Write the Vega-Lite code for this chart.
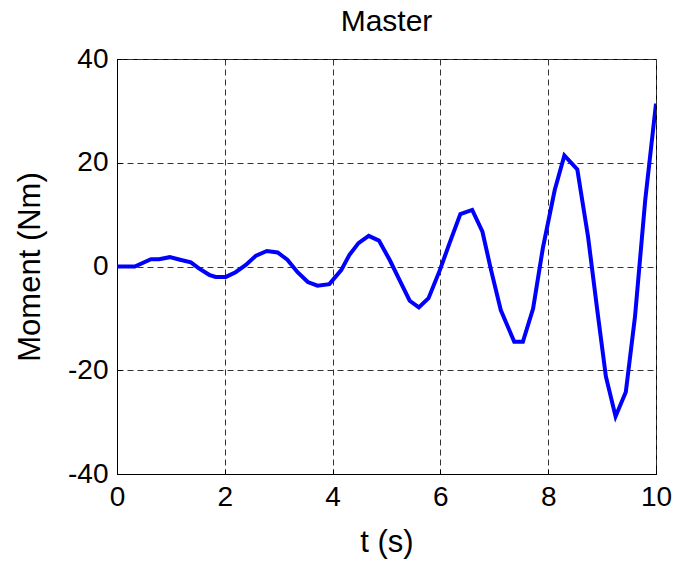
{
  "$schema": "https://vega.github.io/schema/vega-lite/v6.json",
  "autosize": {"type": "none"},
  "width": 539,
  "height": 415,
  "padding": {"left": 117, "top": 59, "right": 21, "bottom": 87},
  "background": "white",
  "title": {"text": "Master", "font": "Liberation Sans", "fontSize": 30, "fontWeight": "normal", "color": "black", "offset": 8},
  "data": {"values": [
    {"t": 0.0, "m": 0.0}, {"t": 0.33, "m": 0.0}, {"t": 0.63, "m": 1.4}, {"t": 0.78, "m": 1.4},
    {"t": 0.98, "m": 1.8}, {"t": 1.17, "m": 1.3}, {"t": 1.37, "m": 0.8}, {"t": 1.52, "m": -0.35},
    {"t": 1.71, "m": -1.6}, {"t": 1.83, "m": -2.0}, {"t": 2.02, "m": -2.0}, {"t": 2.2, "m": -1.1},
    {"t": 2.39, "m": 0.3}, {"t": 2.58, "m": 2.1}, {"t": 2.78, "m": 3.0}, {"t": 2.98, "m": 2.7},
    {"t": 3.16, "m": 1.3}, {"t": 3.35, "m": -1.1}, {"t": 3.54, "m": -3.0}, {"t": 3.72, "m": -3.7},
    {"t": 3.94, "m": -3.4}, {"t": 4.16, "m": -0.7}, {"t": 4.31, "m": 2.2}, {"t": 4.48, "m": 4.5},
    {"t": 4.67, "m": 5.9}, {"t": 4.86, "m": 5.0}, {"t": 5.06, "m": 1.25}, {"t": 5.24, "m": -2.6},
    {"t": 5.43, "m": -6.6}, {"t": 5.6, "m": -7.9}, {"t": 5.78, "m": -6.1}, {"t": 5.99, "m": -0.7},
    {"t": 6.17, "m": 4.5}, {"t": 6.37, "m": 10.1}, {"t": 6.59, "m": 10.9}, {"t": 6.78, "m": 6.7},
    {"t": 6.94, "m": -0.7}, {"t": 7.12, "m": -8.4}, {"t": 7.37, "m": -14.5}, {"t": 7.53, "m": -14.5},
    {"t": 7.72, "m": -8.1}, {"t": 7.9, "m": 3.5}, {"t": 8.12, "m": 14.7}, {"t": 8.3, "m": 21.4},
    {"t": 8.54, "m": 18.7}, {"t": 8.74, "m": 5.7}, {"t": 8.91, "m": -8.4}, {"t": 9.07, "m": -21.2},
    {"t": 9.25, "m": -28.9}, {"t": 9.44, "m": -24.2}, {"t": 9.61, "m": -9.7}, {"t": 9.8, "m": 12.8},
    {"t": 10.0, "m": 31.4}
  ]},
  "mark": {"type": "line", "color": "#0000ff", "strokeWidth": 4, "clip": true},
  "encoding": {
    "x": {"field": "t", "type": "quantitative", "title": "t (s)",
      "scale": {"domain": [0, 10], "nice": false, "zero": false},
      "axis": {"values": [0, 2, 4, 6, 8, 10], "tickSize": -5, "labelPadding": 14, "titlePadding": 16}},
    "y": {"field": "m", "type": "quantitative", "title": "Moment (Nm)",
      "scale": {"domain": [-40, 40], "nice": false},
      "axis": {"values": [-40, -20, 0, 20, 40], "tickSize": -5, "labelPadding": 14, "titlePadding": 21,
        "labelExpr": "replace(datum.label, '−', '-')"}}
  },
  "config": {
    "view": {"stroke": "black", "strokeWidth": 1},
    "axis": {
      "domainColor": "black", "domainWidth": 1, "tickColor": "black", "tickWidth": 1,
      "grid": true, "gridColor": "#333333", "gridDash": [6, 4], "gridWidth": 1, "gridOpacity": 1,
      "labelFont": "Liberation Sans", "labelFontSize": 28, "labelColor": "black",
      "titleFont": "Liberation Sans", "titleFontSize": 31, "titleFontWeight": "normal", "titleColor": "black",
      "labelFlush": false, "labelOverlap": false
    }
  }
}
